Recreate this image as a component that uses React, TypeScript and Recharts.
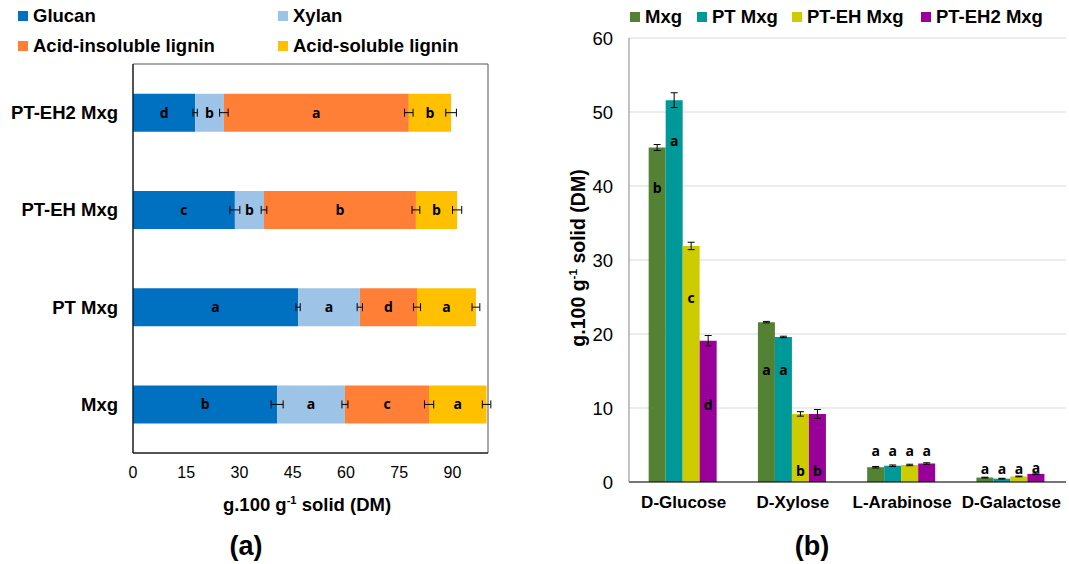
import React from 'react';
import { BarChart, Bar, XAxis, YAxis, CartesianGrid, ErrorBar, LabelList, ReferenceArea } from 'recharts';

// ---- panel (a): composition of solids ----
const samples = ['PT-EH2 Mxg', 'PT-EH Mxg', 'PT Mxg', 'Mxg'];
const glucan = [17.5, 28.7, 46.5, 40.6];
const xylan = [8.1, 8.2, 17.4, 19.1];
const ail = [52.1, 42.8, 16.1, 23.7];
const asl = [11.9, 11.6, 16.6, 16.2];
const glucanErr = [0.6, 1.4, 0.6, 1.7];
const xylanErr = [1.2, 0.8, 0.75, 0.85];
const ailErr = [1.2, 1.1, 1.0, 1.3];
const aslErr = [1.5, 1.3, 1.1, 1.2];
const glucanLet = ['d', 'c', 'a', 'b'];
const xylanLet = ['b', 'b', 'a', 'a'];
const ailLet = ['a', 'b', 'd', 'c'];
const aslLet = ['b', 'b', 'a', 'a'];
const compTicks = [0, 15, 30, 45, 60, 75, 90];

const compSeries = [
  { key: 'glucan', name: 'Glucan', color: '#0070C0' },
  { key: 'xylan', name: 'Xylan', color: '#9DC3E6' },
  { key: 'ail', name: 'Acid-insoluble lignin', color: '#FF7F37' },
  { key: 'asl', name: 'Acid-soluble lignin', color: '#FFC000' },
];

// ---- panel (b): sugars ----
const sugars = ['D-Glucose', 'D-Xylose', 'L-Arabinose', 'D-Galactose'];
const mxg = [45.2, 21.6, 2.0, 0.6];
const ptMxg = [51.6, 19.6, 2.2, 0.45];
const ptEh = [31.9, 9.2, 2.3, 0.75];
const ptEh2 = [19.1, 9.2, 2.5, 1.1];
const mxgErr = [0.4, 0.1, 0.1, 0.05];
const ptMxgErr = [1.0, 0.1, 0.1, 0.05];
const ptEhErr = [0.5, 0.3, 0.1, 0.05];
const ptEh2Err = [0.7, 0.6, 0.1, 0.1];
const mxgLet = ['b', 'a', 'a', 'a'];
const ptMxgLet = ['a', 'a', 'a', 'a'];
const ptEhLet = ['c', 'b', 'a', 'a'];
const ptEh2Let = ['d', 'b', 'a', 'a'];
// value at which each letter sits
const mxgLetAt = [39.8, 15.2, 4.3, 1.8];
const ptMxgLetAt = [46.1, 15.2, 4.3, 1.8];
const ptEhLetAt = [24.9, 1.5, 4.3, 1.8];
const ptEh2LetAt = [10.5, 1.5, 4.3, 2.0];
const sugarTicks = [0, 10, 20, 30, 40, 50, 60];

const sugarSeries = [
  { key: 'mxg', name: 'Mxg', color: '#548235', vals: mxg, letAt: mxgLetAt },
  { key: 'ptMxg', name: 'PT Mxg', color: '#009999', vals: ptMxg, letAt: ptMxgLetAt },
  { key: 'ptEh', name: 'PT-EH Mxg', color: '#CCCC00', vals: ptEh, letAt: ptEhLetAt },
  { key: 'ptEh2', name: 'PT-EH2 Mxg', color: '#990099', vals: ptEh2, letAt: ptEh2LetAt },
];

const compData = samples.map((name, i) => ({
  name,
  glucan: glucan[i], xylan: xylan[i], ail: ail[i], asl: asl[i],
  glucanErr: glucanErr[i], xylanErr: xylanErr[i], ailErr: ailErr[i], aslErr: aslErr[i],
  glucanLet: glucanLet[i], xylanLet: xylanLet[i], ailLet: ailLet[i], aslLet: aslLet[i],
}));

const sugarData = sugars.map((name, i) => ({
  name,
  mxg: mxg[i], ptMxg: ptMxg[i], ptEh: ptEh[i], ptEh2: ptEh2[i],
  mxgErr: mxgErr[i], ptMxgErr: ptMxgErr[i], ptEhErr: ptEhErr[i], ptEh2Err: ptEh2Err[i],
  mxgLet: mxgLet[i], ptMxgLet: ptMxgLet[i], ptEhLet: ptEhLet[i], ptEh2Let: ptEh2Let[i],
}));

const SANS = '"Liberation Sans", Arial, sans-serif';
const LETTER_FONT = '"Open Sans", sans-serif';

// letter placed at a given value inside/above a vertical bar
const letterAt = (vals: number[], at: number[]) => (props: any) => {
  const vb = props.viewBox || props;
  const { x, y, width, height } = vb;
  const i = props.index;
  if (i == null || !vals[i]) return null;
  const ly = y + height - (at[i] / vals[i]) * height;
  return (
    <text x={x + width / 2} y={ly} textAnchor="middle" dominantBaseline="central"
      fontFamily={LETTER_FONT} fontWeight={700} fontSize={14} fill="#000">
      {props.value}
    </text>
  );
};

const Title = ({ rotate, style }: { rotate?: boolean; style: React.CSSProperties }) => (
  <div style={{
    position: 'absolute', fontFamily: SANS, fontWeight: 700, whiteSpace: 'nowrap',
    transform: rotate ? 'translate(-50%, -50%) rotate(-90deg)' : 'translate(-50%, -50%)',
    ...style,
  }}>
    g.100 g<sup style={{ fontSize: '0.6em' }}>-1</sup> solid (DM)
  </div>
);

const LegendItem = ({ color, name, left, top }: { color: string; name: string; left: number; top: number }) => (
  <div style={{ position: 'absolute', left, top, display: 'flex', alignItems: 'center', fontFamily: SANS, fontWeight: 700, fontSize: 18.5, whiteSpace: 'nowrap' }}>
    <span style={{ width: 10, height: 10, background: color, marginRight: 5, display: 'inline-block' }} />
    {name}
  </div>
);

export default function App() {
  const compLegendPos = [[18, 5], [278, 5], [18, 35], [278, 35]];
  const sugarLegendPos = [[630, 6], [697, 6], [792, 6], [921, 6]];
  return (
    <div style={{ position: 'absolute', left: 0, top: 0, width: 1069, height: 564, background: '#fff', overflow: 'hidden' }}>
      {compSeries.map((s, i) => (
        <LegendItem key={s.key} color={s.color} name={s.name} left={compLegendPos[i][0]} top={compLegendPos[i][1]} />
      ))}
      {sugarSeries.map((s, i) => (
        <LegendItem key={s.key} color={s.color} name={s.name} left={sugarLegendPos[i][0]} top={sugarLegendPos[i][1]} />
      ))}

      <div style={{ position: 'absolute', left: 0, top: 0 }}>
        <BarChart layout="vertical" width={500} height={564} data={compData}
          margin={{ top: 64, right: 12, bottom: 81, left: 0 }} barCategoryGap="30.5%">
          <XAxis type="number" domain={[0, 100]} ticks={compTicks} allowDataOverflow
            tickLine={false} tickSize={0} tickMargin={14} height={30}
            axisLine={{ stroke: '#000' }} tick={{ fontSize: 16, fill: '#000', fontFamily: SANS }} />
          <YAxis type="category" dataKey="name" width={133} tickLine={false} tickSize={0} tickMargin={15}
            axisLine={{ stroke: '#000' }} tick={{ fontSize: 18.5, fontWeight: 700, fill: '#000', fontFamily: SANS }} />
          {compSeries.map((s) => (
            <Bar key={s.key} dataKey={s.key} stackId="c" fill={s.color} isAnimationActive={false}>
              <ErrorBar dataKey={`${s.key}Err`} direction="x" width={4} stroke="#000" strokeWidth={1} />
              <LabelList dataKey={`${s.key}Let`} position="center" fill="#000"
                style={{ fontFamily: LETTER_FONT, fontWeight: 700, fontSize: 14 }} />
            </Bar>
          ))}
          <ReferenceArea x1={0} x2={100} fill="none" stroke="#555" strokeWidth={1} ifOverflow="visible" />
        </BarChart>
      </div>
      <Title style={{ left: 307, top: 505, fontSize: 18.5 }} />
      <div style={{ position: 'absolute', left: 246, top: 546, transform: 'translate(-50%, -50%)', fontFamily: SANS, fontWeight: 700, fontSize: 27 }}>(a)</div>

      <div style={{ position: 'absolute', left: 540, top: 0 }}>
        <BarChart width={529} height={564} data={sugarData}
          margin={{ top: 38, right: 3, bottom: 52, left: 0 }} barCategoryGap="18%" barGap={0}>
          <CartesianGrid vertical={false} stroke="#D9D9D9" />
          <XAxis dataKey="name" tickLine={false} tickSize={0} tickMargin={14} height={30}
            axisLine={{ stroke: '#000' }} tick={{ fontSize: 17, fontWeight: 700, fill: '#000', fontFamily: SANS }} />
          <YAxis type="number" domain={[0, 60]} ticks={sugarTicks} width={89} tickLine={false} tickSize={0}
            tickMargin={16} axisLine={{ stroke: '#868686' }} tick={{ fontSize: 18.5, fill: '#000', fontFamily: SANS }} />
          {sugarSeries.map((s) => (
            <Bar key={s.key} dataKey={s.key} fill={s.color} isAnimationActive={false}>
              <ErrorBar dataKey={`${s.key}Err`} direction="y" width={3.5} stroke="#000" strokeWidth={1} />
              <LabelList dataKey={`${s.key}Let`} content={letterAt(s.vals, s.letAt)} />
            </Bar>
          ))}
        </BarChart>
      </div>
      <Title rotate style={{ left: 578, top: 258, fontSize: 19.5 }} />
      <div style={{ position: 'absolute', left: 812, top: 546, transform: 'translate(-50%, -50%)', fontFamily: SANS, fontWeight: 700, fontSize: 27 }}>(b)</div>
    </div>
  );
}
